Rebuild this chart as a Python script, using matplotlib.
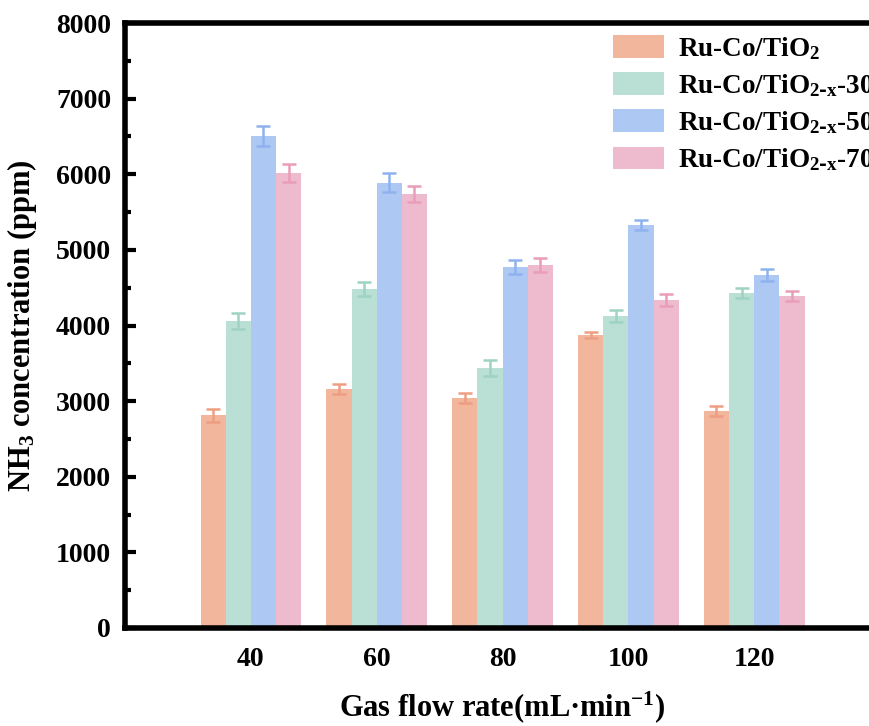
import numpy as np
import matplotlib
matplotlib.use("Agg")
import matplotlib.pyplot as plt

plt.rcParams["font.family"] = ["Liberation Serif", "DejaVu Serif"]
plt.rcParams["font.weight"] = "bold"
plt.rcParams["mathtext.default"] = "regular"

# --- data ---
flow_rates = [40, 60, 80, 100, 120]
series_names = [r"Ru-Co/TiO$_2$", r"Ru-Co/TiO$_{2\text{-}x}$-300",
                r"Ru-Co/TiO$_{2\text{-}x}$-500", r"Ru-Co/TiO$_{2\text{-}x}$-700"]
ruco_tio2 = [2810, 3160, 3040, 3875, 2870]
ruco_300 = [4060, 4485, 3440, 4130, 4430]
ruco_500 = [6510, 5890, 4775, 5330, 4670]
ruco_700 = [6020, 5740, 4800, 4340, 4390]
err_tio2 = [90, 65, 70, 40, 65]
err_300 = [105, 95, 105, 80, 65]
err_500 = [130, 130, 90, 70, 80]
err_700 = [120, 105, 90, 80, 65]

values = [ruco_tio2, ruco_300, ruco_500, ruco_700]
errors = [err_tio2, err_300, err_500, err_700]
colors = ["#F1B69C", "#BADFD4", "#ADC8F3", "#EEBBCE"]
ecolors = ["#EE9E82", "#9FD3C2", "#8FB2EE", "#E99DB8"]

fig = plt.figure(figsize=(8.7, 7.26), dpi=100)
ax = fig.add_axes([0.1437, 0.135, 0.8678, 0.8333])

width = 4
x = np.array(flow_rates, dtype=float)
for i in range(4):
    off = (i - 1.5) * width
    ax.bar(x + off, values[i], width=width, color=colors[i], label=series_names[i], zorder=2)
    ax.errorbar(x + off, values[i], yerr=errors[i], fmt="none", ecolor=ecolors[i],
                elinewidth=1.8, capsize=5, capthick=1.8, zorder=3)

ax.set_xlim(20, 140)
ax.set_ylim(0, 8000)
ax.set_xticks(flow_rates)
ax.set_yticks(np.arange(0, 8001, 1000))
ax.set_yticks(np.arange(500, 8000, 1000), minor=True)
ax.tick_params(axis="x", length=0, pad=14, labelsize=20)
ax.tick_params(axis="y", which="major", direction="in", length=8, width=3, labelsize=20, pad=10)
ax.tick_params(axis="y", which="minor", direction="in", length=4, width=3)
for s in ax.spines.values():
    s.set_linewidth(4)

ax.set_ylabel(r"NH$_3$ concentration (ppm)", fontsize=22, fontweight="bold", labelpad=12)
ax.set_xlabel("Gas flow rate(mL·min$^{-1}$)", fontsize=22, fontweight="bold", labelpad=12)

ax.legend(loc="upper left", bbox_to_anchor=(0.7046, 0.952), bbox_transform=fig.transFigure,
          frameon=False, handlelength=1.88, handleheight=0.92,
          handletextpad=0.52, labelspacing=0.38, borderpad=0, borderaxespad=0,
          prop={"weight": "bold", "size": 19.5})

fig.savefig("out.png", dpi=100)
